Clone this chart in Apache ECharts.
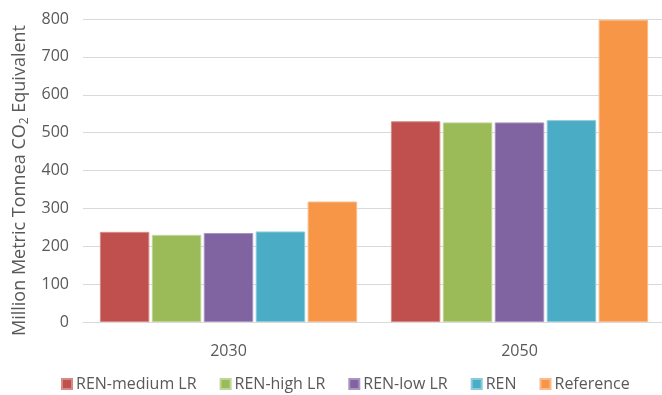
<!DOCTYPE html>
<html>
<head>
<meta charset="utf-8">
<script src="https://cdn.jsdelivr.net/npm/echarts@6/dist/echarts.min.js"></script>
<style>
  html, body { margin: 0; padding: 0; background: #fff; }
  #chart { width: 662px; height: 395px; }
</style>
</head>
<body>
<div id="chart"></div>
<script>
// Emissions by scenario, million metric tonnes CO2 equivalent
const years = ['2030', '2050'];
const renMediumLR = [238, 530];
const renHighLR = [230, 527];
const renLowLR = [235, 527];
const ren = [239, 533];
const reference = [318, 798];
const yTicks = [0, 800, 100];

const names = ['REN-medium LR', 'REN-high LR', 'REN-low LR', 'REN', 'Reference'];
const colors = ['#C0504D', '#9BBB59', '#8064A2', '#4BACC6', '#F79646'];
const borders = ['#d58a88', '#bfd496', '#a995c0', '#8cc9da', '#f9b98a'];
const values = [renMediumLR, renHighLR, renLowLR, ren, reference];

const font = '"Open Sans", "Liberation Sans", sans-serif';
const textColor = '#595959';

const chart = echarts.init(document.getElementById('chart'));
chart.setOption({
  animation: false,
  textStyle: { fontFamily: font },
  grid: { left: 83, right: -3, top: 19, bottom: 73, containLabel: false, outerBoundsMode: 'none' },
  legend: {
    bottom: -2,
    left: 56,
    itemWidth: 10,
    itemHeight: 10,
    itemGap: 23,
    icon: 'rect',
    textStyle: { color: textColor, fontSize: 16, fontFamily: font, padding: [0, 0, 0, -1] },
    data: names
  },
  xAxis: {
    type: 'category',
    data: years,
    axisLine: { lineStyle: { color: '#d9d9d9', width: 1 } },
    axisTick: { show: false },
    axisLabel: { color: textColor, fontSize: 16, margin: 21 }
  },
  yAxis: {
    type: 'value',
    min: yTicks[0],
    max: yTicks[1],
    interval: yTicks[2],
    axisLine: { show: false },
    axisTick: { show: false },
    axisLabel: { color: textColor, fontSize: 16, margin: 14 },
    splitLine: { lineStyle: { color: '#d9d9d9', width: 1 } },
    name: '{a|Million Metric Tonnea CO}{s|2}{a| Equivalent}',
    nameLocation: 'middle',
    nameRotate: 90,
    nameGap: 52,
    nameTextStyle: {
      padding: [0, 20, 0, 0],
      rich: {
        a: { fontSize: 18, color: textColor, fontFamily: font, lineHeight: 22 },
        s: { fontSize: 12, color: textColor, fontFamily: font, lineHeight: 22, verticalAlign: 'bottom', padding: [9, 0, 0, 0] }
      }
    }
  },
  series: names.map((n, i) => ({
    name: n,
    type: 'bar',
    data: values[i],
    barWidth: '17%',
    barGap: '5%',
    itemStyle: { color: colors[i], borderColor: borders[i], borderWidth: 1 }
  }))
});
</script>
</body>
</html>
